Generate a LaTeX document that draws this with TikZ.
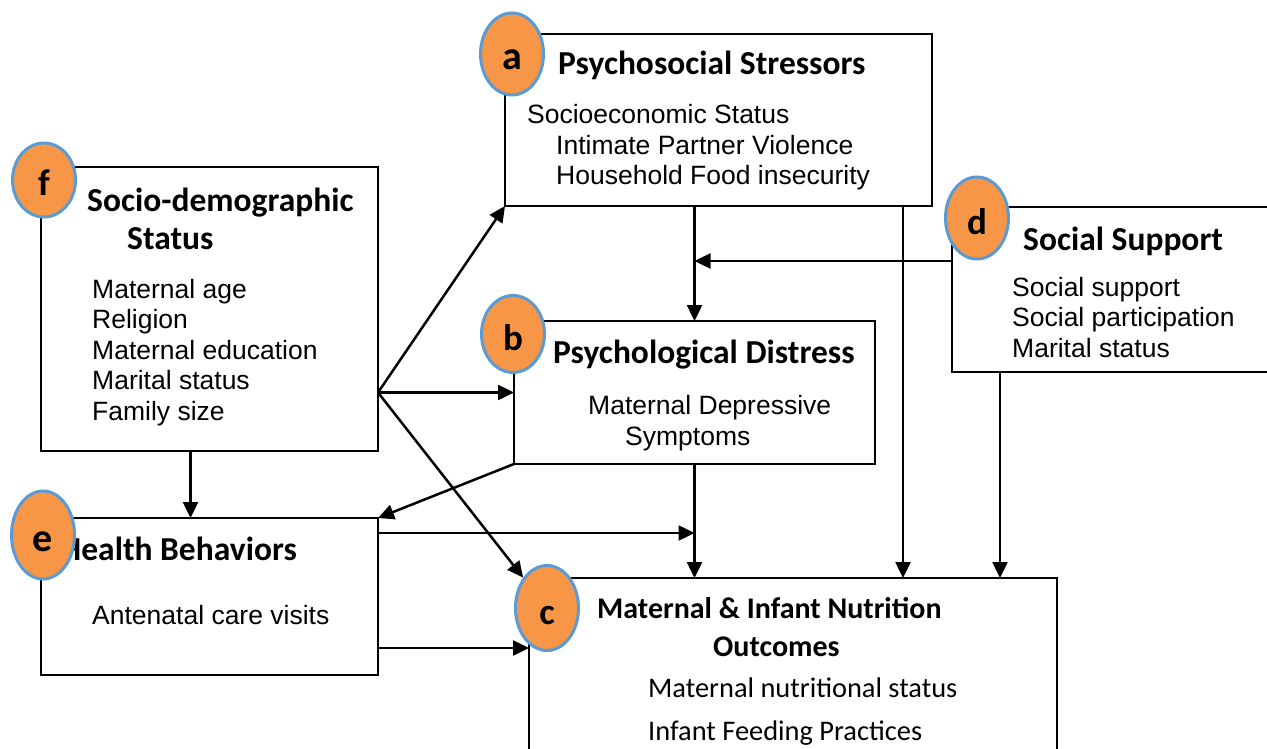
\documentclass[tikz,border=0pt]{standalone}
\usepackage{fontspec}
\setmainfont{Liberation Sans}
\newfontfamily\calfont{Carlito}
\usetikzlibrary{arrows.meta,shapes.geometric}

\definecolor{tagorange}{HTML}{F79646}
\definecolor{tagblue}{HTML}{5B9BD5}

\tikzset{
  box/.style={draw, line width=2.7pt, inner sep=0pt, outer sep=0pt},
  head/.style={font=\calfont\bfseries\fontsize{33.5}{38}\selectfont, align=left, anchor=base west, inner sep=0pt},
  item/.style={font=\fontsize{26.5}{30.5}\selectfont, align=left, anchor=base west, inner sep=0pt},
  tag/.style={ellipse, draw=tagblue, fill=tagorange, line width=3pt, minimum width=63pt, minimum height=82pt, inner sep=0pt, text height=32pt, text depth=0pt, font=\calfont\bfseries\fontsize{37}{37}\selectfont},
  arr/.style={-{Triangle[length=16pt,width=15pt]}, line width=2.5pt},
}

\begin{document}
\begin{tikzpicture}[x=1pt, y=-1pt]
\useasboundingbox (0,0) rectangle (1267,749);
\clip (0,0) rectangle (1267,749);
% boxes
\node[box, minimum width=427pt, minimum height=172pt] (stress) at (718.5,120) {};
\node[box, minimum width=337pt, minimum height=284pt] (demog) at (209.5,309) {};
\node[box, minimum width=328pt, minimum height=165pt] (support) at (1116,289.5) {};
\node[box, minimum width=361pt, minimum height=143pt] (distress) at (694.5,392.5) {};
\node[box, minimum width=337pt, minimum height=157pt] (health) at (209.5,596.5) {};
\node[box, minimum width=528pt, minimum height=222pt] (outcome) at (793,689) {};
% texts (base = last line)
\node[head] (stressT) at (558,75) {Psychosocial Stressors};
\node[item] (stressB) at (527,185) {Socioeconomic Status\\\hspace*{29pt}Intimate Partner Violence\\\hspace*{29pt}Household Food insecurity};
\node[head] (demogT) at (87,249) {Socio-demographic\\\hspace*{40pt}Status};
\node[item] (demogB) at (92,420) {Maternal age\\Religion\\Maternal education\\Marital status\\Family size};
\node[head] (supportT) at (1023,250) {Social Support};
\node[item] (supportB) at (1012,357) {Social support\\Social participation\\Marital status};
\node[head] (distressT) at (553,363) {Psychological Distress};
\node[item] (distressB) at (588,445) {Maternal Depressive\\\hspace*{37pt}Symptoms};
\node[head, anchor=base east] (healthT) at (297,560) {Health Behaviors};
\node[item] (healthB) at (92,624) {Antenatal care visits};
\node[head, font=\calfont\bfseries\fontsize{30}{38}\selectfont] (outcomeT) at (597,656) {Maternal \& Infant Nutrition\\\hspace*{116pt}Outcomes};
\node[item, font=\calfont\fontsize{28.4}{43}\selectfont] (outcomeB) at (648,740) {Maternal nutritional status\\Infant Feeding Practices};
% letters
\node[tag, font=\calfont\bfseries\fontsize{40}{40}\selectfont] (tagA) at (512,54) {a};
\node[tag, minimum height=74pt] (tagF) at (44,180) {f};
\node[tag] (tagD) at (977,218) {d};
\node[tag, minimum height=77pt] (tagB) at (513,334) {b};
\node[tag, minimum height=88pt, font=\calfont\bfseries\fontsize{40}{40}\selectfont] (tagE) at (43,535) {e};
\node[tag, minimum height=85pt] (tagC) at (547,608) {c};
% arrows
\coordinate (fork) at (demog.east |- distress.west);
\coordinate (merge) at (distress.north |- 0,261);
\draw[arr] (fork) -- (stress.south west);
\draw[arr] (fork) -- (distress.west);
\draw[arr] (fork) -- (tagC);
\draw[arr] ([xshift=-19pt]demog.south) -- ([xshift=-19pt]health.north);
\draw[arr] (stress.south -| distress.north) -- (distress.north);
\draw[arr] (merge -| support.west) -- (merge);
\draw[arr] ([xshift=184.5pt]stress.south) -- ([xshift=184.5pt]stress.south |- outcome.north);
\draw[arr] ([xshift=-116pt]support.south) -- ([xshift=-116pt]support.south |- outcome.north);
\draw[arr] (distress.south) -- (distress.south |- outcome.north);
\draw[arr] (distress.south west) -- (health.north east);
\draw[arr] ([yshift=-15pt]health.north east) -- ([yshift=-15pt]health.north east -| distress.south);
\draw[arr] ([yshift=-51.5pt]health.east) -- ([yshift=-51.5pt]health.east -| outcome.west);
\end{tikzpicture}
\end{document}
